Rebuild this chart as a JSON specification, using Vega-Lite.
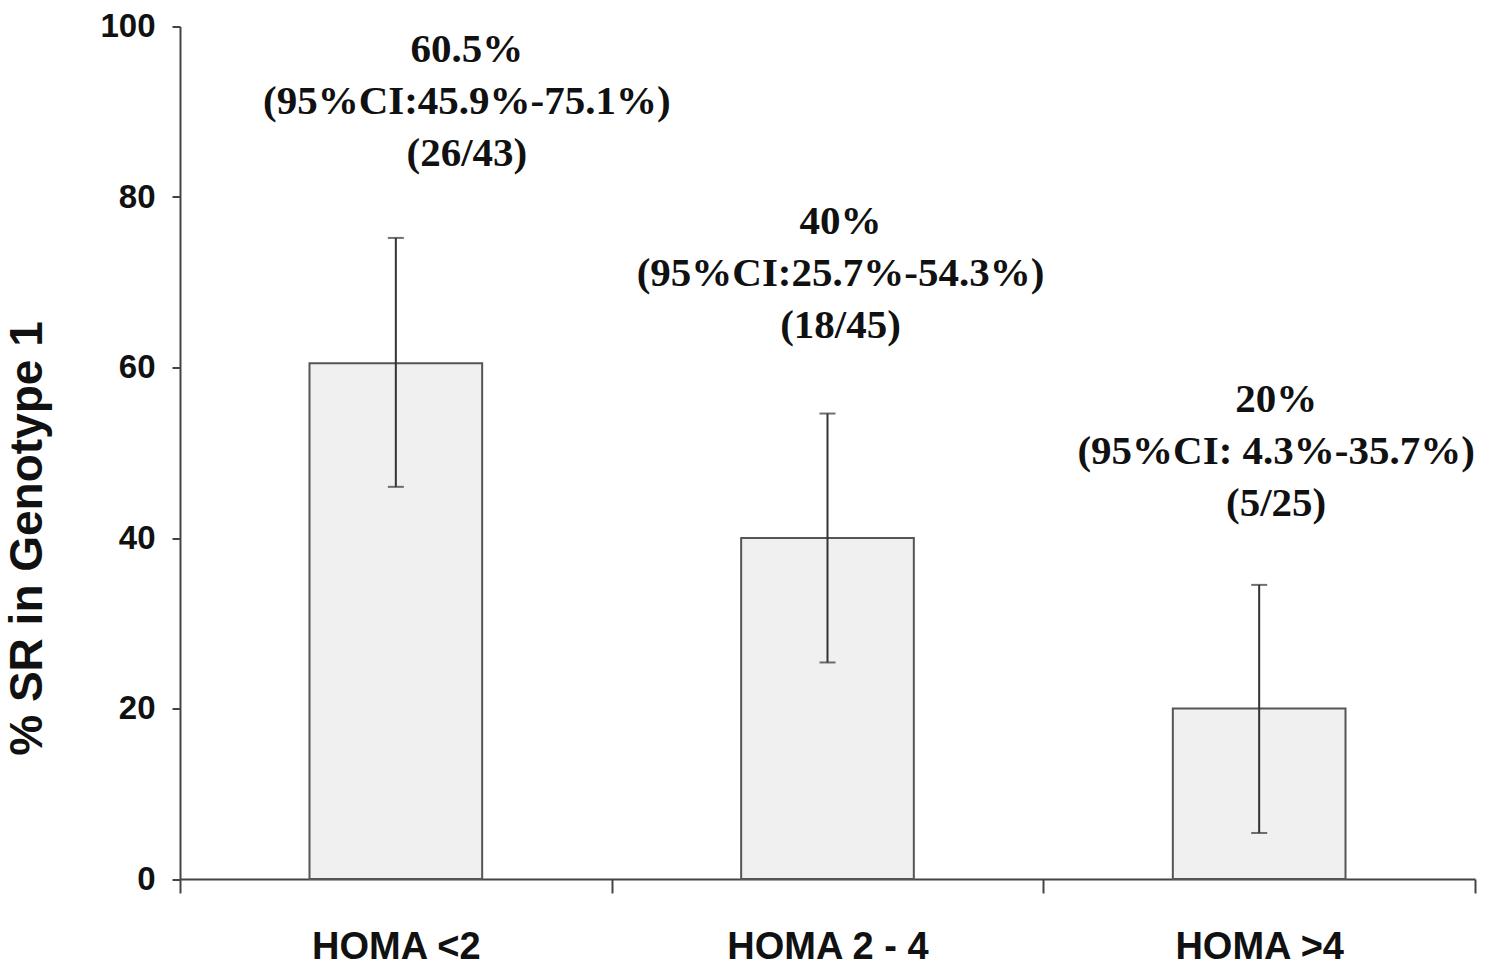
{
  "$schema": "https://vega.github.io/schema/vega-lite/v6.json",
  "autosize": "none",
  "padding": {"left": 180, "top": 26.5, "right": 10, "bottom": 87},
  "width": 1295,
  "height": 852.5,
  "background": "white",
  "config": {"view": {"stroke": null}},
  "data": {"values": [
    {"cat": "HOMA <2", "sr": 60.5, "lo": 46.0, "hi": 75.2, "label": "60.5%\n(95%CI:45.9%-75.1%)\n(26/43)"},
    {"cat": "HOMA 2 - 4", "sr": 40, "lo": 25.4, "hi": 54.6, "label": "40%\n(95%CI:25.7%-54.3%)\n(18/45)"},
    {"cat": "HOMA >4", "sr": 20, "lo": 5.4, "hi": 34.5, "label": "20%\n(95%CI: 4.3%-35.7%)\n(5/25)"}
  ]},
  "encoding": {
    "x": {"field": "cat", "type": "nominal", "sort": null,
      "scale": {"paddingInner": 0, "paddingOuter": 0},
      "axis": {"title": null, "labelAngle": 0, "tickBand": "extent", "tickSize": 14, "tickWidth": 2, "tickColor": "#444",
        "domainColor": "#444", "domainWidth": 2, "labelFont": "Liberation Sans", "labelFontWeight": "bold", "labelFontSize": 38,
        "labelColor": "#111", "labelBaseline": "alphabetic", "labelPadding": 65, "labelLimit": 500}}
  },
  "layer": [
    {"mark": {"type": "bar", "fill": "#f0f0f0", "stroke": "#555", "strokeWidth": 2, "width": {"band": 0.4}},
     "encoding": {"y": {"field": "sr", "type": "quantitative",
       "scale": {"domain": [0, 100]},
       "axis": {"title": "% SR in Genotype 1", "values": [0, 20, 40, 60, 80, 100], "grid": false,
         "tickSize": 8, "tickWidth": 2, "tickColor": "#444", "domainColor": "#444", "domainWidth": 2,
         "labelFont": "Liberation Sans", "labelFontWeight": "bold", "labelFontSize": 33, "labelColor": "#111", "labelPadding": 17,
         "titleFont": "Liberation Sans", "titleFontWeight": "bold", "titleFontSize": 46, "titleColor": "#111",
         "titleAngle": -90, "titleX": -139, "titleY": 511.5, "titleAlign": "center", "titleBaseline": "alphabetic"}}}},
    {"mark": {"type": "rule", "color": "#333", "strokeWidth": 2},
     "encoding": {"y": {"field": "lo", "type": "quantitative"}, "y2": {"field": "hi"}}},
    {"mark": {"type": "tick", "color": "#333", "thickness": 2, "size": 16},
     "encoding": {"y": {"field": "lo", "type": "quantitative"}}},
    {"mark": {"type": "tick", "color": "#333", "thickness": 2, "size": 16},
     "encoding": {"y": {"field": "hi", "type": "quantitative"}}},
    {"transform": [{"filter": "datum.cat === 'HOMA <2'"}],
     "mark": {"type": "text", "font": "Liberation Serif", "fontWeight": "bold", "fontSize": 41, "color": "#111",
       "lineBreak": "\n", "lineHeight": 52, "baseline": "alphabetic", "align": "center", "dx": 71, "dy": -176},
     "encoding": {"y": {"field": "hi", "type": "quantitative"}, "text": {"field": "label"}}},
    {"transform": [{"filter": "datum.cat === 'HOMA 2 - 4'"}],
     "mark": {"type": "text", "font": "Liberation Serif", "fontWeight": "bold", "fontSize": 41, "color": "#111",
       "lineBreak": "\n", "lineHeight": 52, "baseline": "alphabetic", "align": "center", "dx": 13, "dy": -180},
     "encoding": {"y": {"field": "hi", "type": "quantitative"}, "text": {"field": "label"}}},
    {"transform": [{"filter": "datum.cat === 'HOMA >4'"}],
     "mark": {"type": "text", "font": "Liberation Serif", "fontWeight": "bold", "fontSize": 41, "color": "#111",
       "lineBreak": "\n", "lineHeight": 52, "baseline": "alphabetic", "align": "center", "dx": 17, "dy": -173},
     "encoding": {"y": {"field": "hi", "type": "quantitative"}, "text": {"field": "label"}}}
  ]
}
